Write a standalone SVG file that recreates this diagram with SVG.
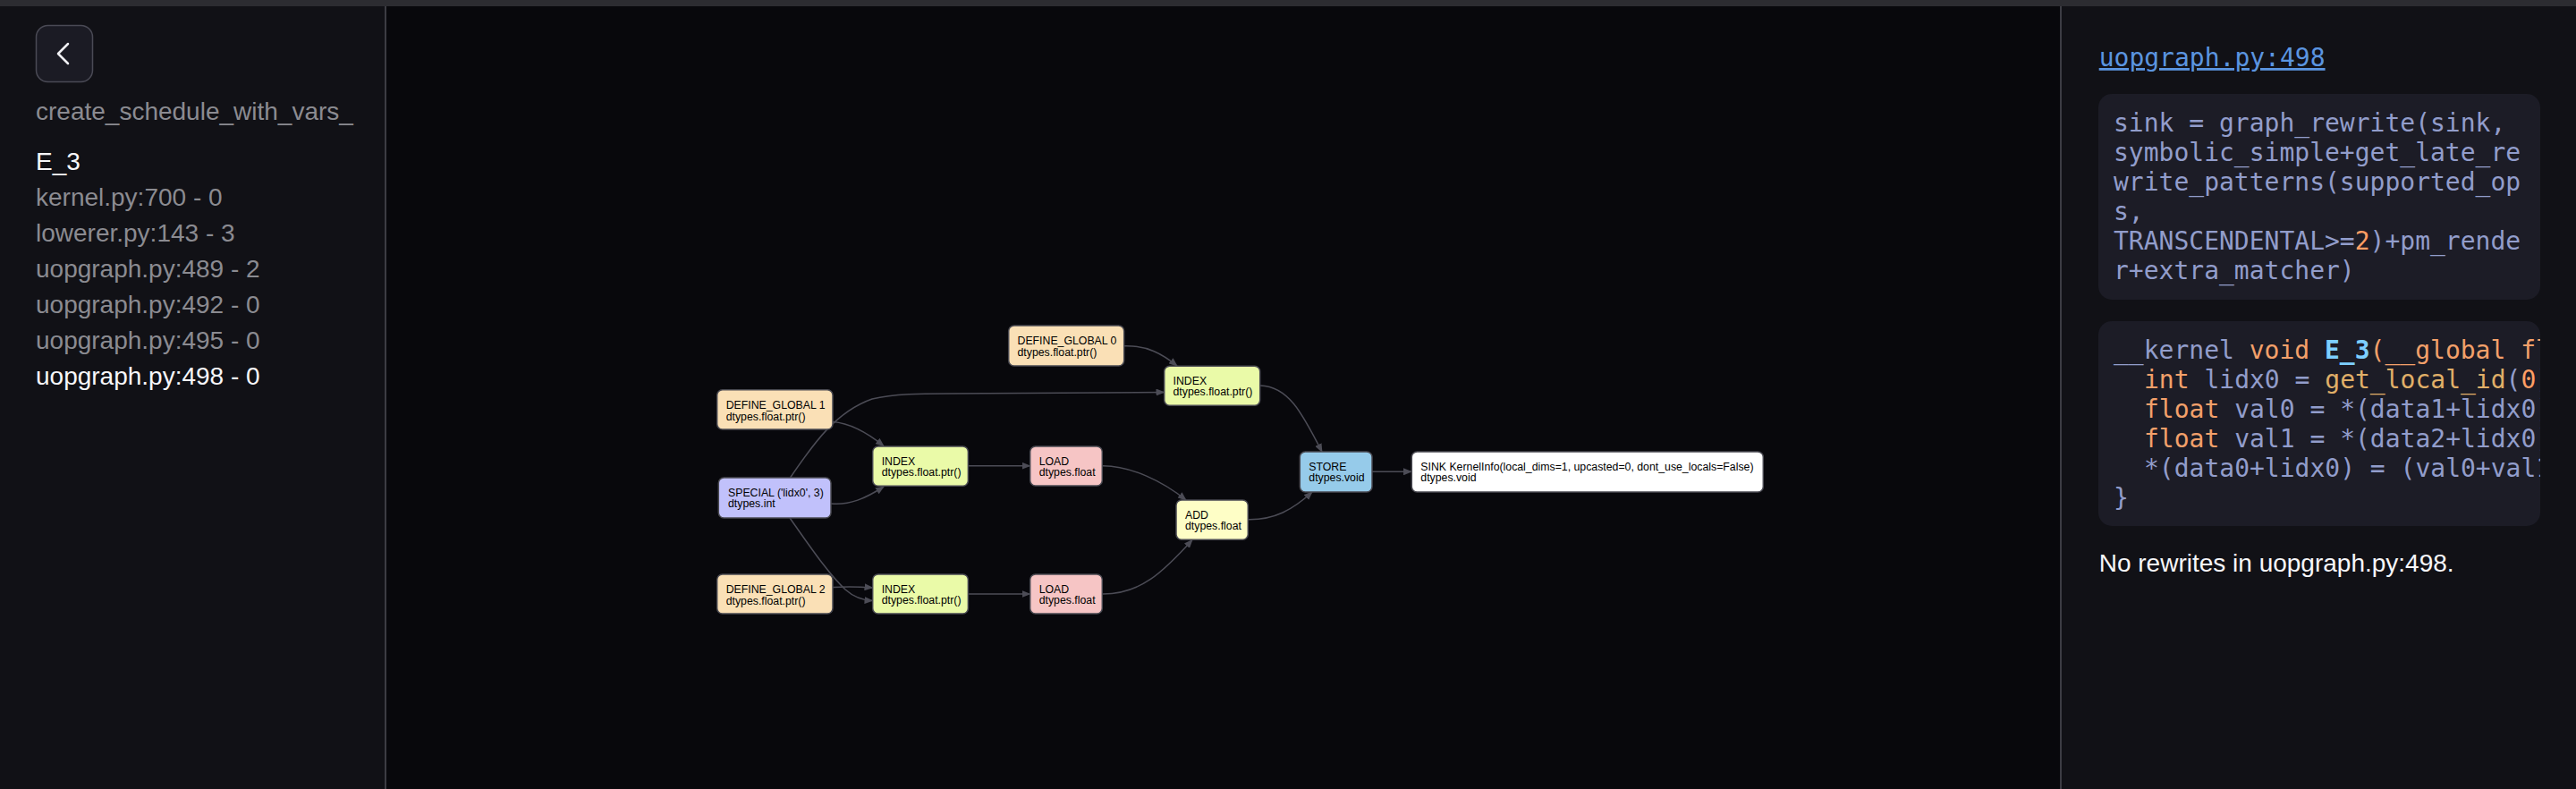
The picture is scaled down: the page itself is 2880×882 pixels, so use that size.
<svg xmlns="http://www.w3.org/2000/svg" width="2880" height="882" viewBox="0 0 2880 882">
<style>
.side{font-family:"Liberation Sans",Arial,sans-serif;font-size:28px;fill:#8b8b91}
.sel{fill:#f7f7fa}
.node rect{stroke:#4a4a52;stroke-width:1.5}
.node text{font-family:"Liberation Sans",Arial,sans-serif;font-size:12.3px;fill:#000}
.edge{fill:none;stroke:#4c4c56;stroke-width:1.5}
.code{font-family:"DejaVu Sans Mono",monospace;font-size:28px;fill:#929dcb}
.kw{fill:#f3a06a}
.fn{fill:#e0af68}
.nm{fill:#7dcfff;font-weight:bold}
.num{fill:#ff9e64}
</style>
<defs>
<marker id="arr" markerUnits="userSpaceOnUse" markerWidth="10" markerHeight="8" refX="9" refY="4" orient="auto">
<path d="M0,0 L10,4 L0,8 z" fill="#4c4c56"/>
</marker>
<clipPath id="clip2"><rect x="2346" y="359" width="494" height="229" rx="15"/></clipPath>
</defs>
<rect x="0" y="0" width="2880" height="882" fill="#08080c"/>
<rect x="0" y="0" width="431" height="882" fill="#111116"/>
<rect x="2304" y="0" width="576" height="882" fill="#111116"/>
<rect x="0" y="0" width="2880" height="7" fill="#2c2c31"/>
<line x1="431" y1="7" x2="431" y2="882" stroke="#3c3c43" stroke-width="2"/>
<line x1="2304" y1="7" x2="2304" y2="882" stroke="#3c3c43" stroke-width="2"/>

<g id="sidebar">
<rect x="40.5" y="28.5" width="63" height="63" rx="13" fill="#1b1b24" stroke="#4a4a55" stroke-width="1.5"/>
<path d="M76,49 L65,60 L76,71" fill="none" stroke="#f0f0f4" stroke-width="2.5" stroke-linecap="round" stroke-linejoin="round"/>
<text class="side" x="40" y="134">create_schedule_with_vars_</text>
<text class="side sel" x="40" y="190">E_3</text>
<text class="side" x="40" y="230">kernel.py:700 - 0</text>
<text class="side" x="40" y="269.5">lowerer.py:143 - 3</text>
<text class="side" x="40" y="309.5">uopgraph.py:489 - 2</text>
<text class="side" x="40" y="349.5">uopgraph.py:492 - 0</text>
<text class="side" x="40" y="389.5">uopgraph.py:495 - 0</text>
<text class="side sel" x="40" y="429.5">uopgraph.py:498 - 0</text>
</g>

<g id="connectors">
<path class="edge" marker-end="url(#arr)" d="M1257,386.7 C1283,386 1300,396 1316,409"/>
<path class="edge" marker-end="url(#arr)" d="M883.5,534 C910,495 935,460 975,446 C1000,440 1030,440 1060,440 L1301.5,438.5"/>
<path class="edge" marker-end="url(#arr)" d="M931,471.5 C950,473 970,484 988,498.5"/>
<path class="edge" marker-end="url(#arr)" d="M929,563 C950,565 968,557 988,544"/>
<path class="edge" marker-end="url(#arr)" d="M883,579 C905,610 925,640 945,659 C955,668 965,671 975.5,671.5"/>
<path class="edge" marker-end="url(#arr)" d="M931,656.5 C950,655.5 962,656 975.5,657"/>
<path class="edge" marker-end="url(#arr)" d="M1083,520.7 L1151.5,520.7"/>
<path class="edge" marker-end="url(#arr)" d="M1083,664 L1151.5,664"/>
<path class="edge" marker-end="url(#arr)" d="M1233,520.7 C1265,521 1300,538 1326,559"/>
<path class="edge" marker-end="url(#arr)" d="M1233,664 C1275,664 1300,640 1333,603.5"/>
<path class="edge" marker-end="url(#arr)" d="M1409,431 C1440,432 1455,460 1478,505"/>
<path class="edge" marker-end="url(#arr)" d="M1396,580.7 C1425,581 1445,570 1467,550"/>
<path class="edge" marker-end="url(#arr)" d="M1534,527.3 L1578,527.3"/>
</g>

<g id="n_dg0" class="node"><rect x="1127.7" y="364" width="129" height="45" rx="6" fill="#fae0b6"/><text x="1137.5" y="385">DEFINE_GLOBAL 0</text><text x="1137.5" y="397.5">dtypes.float.ptr()</text></g>
<g id="n_dg1" class="node"><rect x="801.7" y="435.7" width="129.3" height="44.3" rx="6" fill="#fae0b6"/><text x="811.7" y="457">DEFINE_GLOBAL 1</text><text x="811.7" y="469.5">dtypes.float.ptr()</text></g>
<g id="n_dg2" class="node"><rect x="801.7" y="642" width="129.3" height="44" rx="6" fill="#fae0b6"/><text x="811.7" y="663">DEFINE_GLOBAL 2</text><text x="811.7" y="675.5">dtypes.float.ptr()</text></g>
<g id="n_special" class="node"><rect x="803.3" y="534" width="125.7" height="45" rx="6" fill="#c1c1fb"/><text x="814" y="555">SPECIAL ('lidx0', 3)</text><text x="814" y="567">dtypes.int</text></g>
<g id="n_index1" class="node"><rect x="975.7" y="499" width="106.7" height="44.3" rx="6" fill="#eafaa8"/><text x="985.7" y="519.8">INDEX</text><text x="985.7" y="531.8">dtypes.float.ptr()</text></g>
<g id="n_index2" class="node"><rect x="975.7" y="642" width="106.7" height="44" rx="6" fill="#eafaa8"/><text x="985.7" y="663">INDEX</text><text x="985.7" y="675">dtypes.float.ptr()</text></g>
<g id="n_index0" class="node"><rect x="1301.7" y="409.3" width="107" height="44" rx="6" fill="#eafaa8"/><text x="1311.5" y="430.3">INDEX</text><text x="1311.5" y="442.3">dtypes.float.ptr()</text></g>
<g id="n_load1" class="node"><rect x="1151.7" y="499" width="80.6" height="44" rx="6" fill="#f6c5c5"/><text x="1161.7" y="519.8">LOAD</text><text x="1161.7" y="531.8">dtypes.float</text></g>
<g id="n_load2" class="node"><rect x="1151.7" y="642" width="80.6" height="44" rx="6" fill="#f6c5c5"/><text x="1161.7" y="663">LOAD</text><text x="1161.7" y="675">dtypes.float</text></g>
<g id="n_add" class="node"><rect x="1315" y="559" width="80.3" height="44.3" rx="6" fill="#fefec6"/><text x="1325" y="580">ADD</text><text x="1325" y="592">dtypes.float</text></g>
<g id="n_store" class="node"><rect x="1453.3" y="505" width="80.7" height="45" rx="6" fill="#96cbea"/><text x="1463.3" y="526">STORE</text><text x="1463.3" y="538.3">dtypes.void</text></g>
<g id="n_sink" class="node"><rect x="1578.3" y="505" width="393" height="45" rx="6" fill="#ffffff"/><text x="1588.3" y="526">SINK KernelInfo(local_dims=1, upcasted=0, dont_use_locals=False)</text><text x="1588.3" y="538.3">dtypes.void</text></g>

<g id="detail">
<text x="2346.7" y="74" font-family="DejaVu Sans Mono,monospace" font-size="28" fill="#5b95e0" text-decoration="underline">uopgraph.py:498</text>
<rect x="2346" y="105" width="494" height="230" rx="15" fill="#1c1c26"/>
<text class="code" x="2363" y="146.5">sink = graph_rewrite(sink,</text>
<text class="code" x="2363" y="179.5">symbolic_simple+get_late_re</text>
<text class="code" x="2363" y="212.5">write_patterns(supported_op</text>
<text class="code" x="2363" y="245.5">s,</text>
<text class="code" x="2363" y="278.5">TRANSCENDENTAL&gt;=<tspan class="num">2</tspan>)+pm_rende</text>
<text class="code" x="2363" y="311.5">r+extra_matcher)</text>
<rect x="2346" y="359" width="494" height="229" rx="15" fill="#1c1c26"/>
<g clip-path="url(#clip2)">
<text class="code" x="2363" y="401" xml:space="preserve">__kernel <tspan class="kw">void</tspan> <tspan class="nm">E_3</tspan><tspan class="kw">(__global fl</tspan></text>
<text class="code" x="2397" y="434" xml:space="preserve"><tspan class="kw">int</tspan> lidx0 = <tspan class="fn">get_local_id</tspan>(<tspan class="num">0</tspan>)</text>
<text class="code" x="2397" y="467" xml:space="preserve"><tspan class="kw">float</tspan> val0 = *(data1+lidx0)</text>
<text class="code" x="2397" y="500" xml:space="preserve"><tspan class="kw">float</tspan> val1 = *(data2+lidx0)</text>
<text class="code" x="2397" y="533" xml:space="preserve">*(data0+lidx0) = (val0+val1</text>
<text class="code" x="2363" y="566">}</text>
</g>
<text x="2346.7" y="638.5" font-family="Liberation Sans,Arial,sans-serif" font-size="28" fill="#f7f7fa">No rewrites in uopgraph.py:498.</text>
</g>
</svg>
